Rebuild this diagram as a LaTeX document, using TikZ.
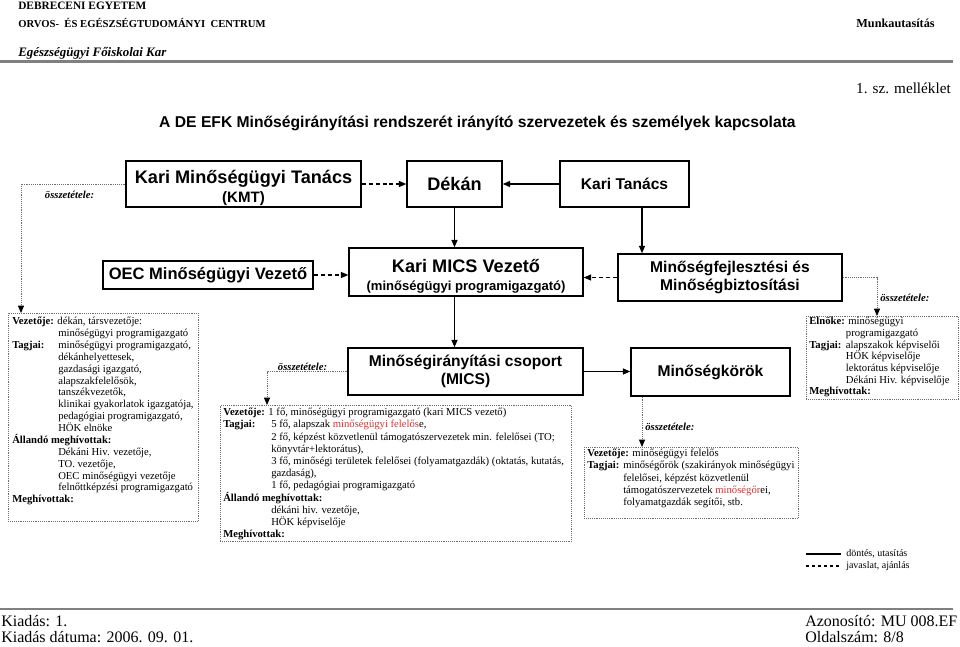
\documentclass[tikz,border=0pt]{standalone}
\usepackage{fontspec}
\setmainfont{Liberation Serif}
\setsansfont{Liberation Sans}
\usetikzlibrary{arrows.meta}
\definecolor{redtxt}{RGB}{214,52,52}
\definecolor{hdgray}{RGB}{128,128,128}
\definecolor{dotgray}{RGB}{110,110,110}
\begin{document}
\begin{tikzpicture}[x=0.75pt,y=-0.75pt,
  bigbox/.style={draw=black,line width=1.1pt,inner sep=0pt,align=center,
    font=\sffamily\bfseries\fontsize{11.7}{14}\selectfont},
  boxtxt/.style={inner sep=0pt,align=center,font=\sffamily\bfseries\fontsize{13.6}{15}\selectfont},
  solidarr/.style={draw=black,line width=0.8pt,-{Triangle[length=5.5pt,width=4.5pt]}},
  dasharr/.style={solidarr,dash pattern=on 3pt off 2.2pt},
  dotline/.style={draw=dotgray,line width=0.6pt,dash pattern=on 0.6pt off 0.8pt,-{Triangle[length=5.5pt,width=4.5pt,color=black]}},
  dotbox/.style={draw=dotgray,line width=0.6pt,dash pattern=on 0.6pt off 0.8pt,inner sep=0pt,anchor=north west},
  bodytxt/.style={inner sep=0pt,align=left,anchor=north west,font=\rmfamily\fontsize{8}{8.9}\selectfont},
  compo/.style={inner sep=0pt,font=\rmfamily\bfseries\itshape\fontsize{8}{9}\selectfont},
  hdtxt/.style={inner sep=0pt,font=\rmfamily\bfseries\fontsize{8.5}{10}\selectfont},
  foottxt/.style={inner sep=0pt,anchor=base west,font=\rmfamily\fontsize{12}{14}\selectfont},
  legtxt/.style={inner sep=0pt,anchor=west,font=\rmfamily\fontsize{7.5}{9}\selectfont},
]
\useasboundingbox (0,0) rectangle (960,646);

% header
\node[hdtxt,anchor=base west] (h1) at (18,9) {DEBRECENI EGYETEM};
\node[hdtxt,anchor=base west,font=\rmfamily\bfseries\fontsize{8}{10}\selectfont] (h2) at (18,27) {ORVOS-\ \ ÉS EGÉSZSÉGTUDOMÁNYI\ \ CENTRUM};
\node[inner sep=0pt,anchor=base west,font=\rmfamily\bfseries\itshape\fontsize{9.7}{12}\selectfont] (h3) at (18,56) {Egészségügyi Főiskolai Kar};
\node[hdtxt,anchor=base east,font=\rmfamily\bfseries\fontsize{9.2}{11}\selectfont] (h4) at (935,27) {Munkautasítás};
\coordinate (hl1) at (0,61.5);
\coordinate (hl2) at (953,61.5);
\draw[hdgray,line width=2.6pt] (hl1) -- (hl2);
\node[inner sep=0pt,anchor=base east,font=\rmfamily\fontsize{11.4}{13}\selectfont] (mell) at (951,93) {1. sz. melléklet};
\node[inner sep=0pt,anchor=base,font=\sffamily\bfseries\fontsize{11.75}{13}\selectfont] (title) at (477.5,127) {A DE EFK Minőségirányítási rendszerét irányító szervezetek és személyek kapcsolata};

% main boxes
\node[bigbox,minimum width=176.25pt,minimum height=34.5pt] (kmt) at (243.5,184) {};
\node[boxtxt] (kmtT) at (243.5,188) {Kari Minőségügyi Tanács\\[-1pt]{\fontsize{11.3}{12}\selectfont (KMT)}};
\node[bigbox,minimum width=71.25pt,minimum height=34.5pt,font=\sffamily\bfseries\fontsize{13.6}{15}\selectfont] (dekan) at (454.5,184) {Dékán};
\node[bigbox,minimum width=96.75pt,minimum height=34.5pt] (kt) at (624.5,184) {Kari Tanács};
\node[bigbox,minimum width=157.5pt,minimum height=21pt,font=\sffamily\bfseries\fontsize{12.4}{14}\selectfont] (oec) at (208,275) {OEC Minőségügyi Vezető};
\node[bigbox,minimum width=175.5pt,minimum height=36pt] (mv) at (466,272) {};
\node[boxtxt] (mvT) at (466,276) {Kari MICS Vezető\\[-1.5pt]{\fontsize{9.8}{11}\selectfont (minőségügyi programigazgató)}};
\node[bigbox,minimum width=168pt,minimum height=35.25pt] (mf) at (730,277.5) {Minőségfejlesztési és\\[-1pt]Minőségbiztosítási};
\node[bigbox,minimum width=176.25pt,minimum height=35.25pt] (mics) at (465.5,371.5) {Minőségirányítási csoport\\[-0.5pt](MICS)};
\node[bigbox,minimum width=119.25pt,minimum height=36pt] (mk) at (710.5,372) {Minőségkörök};

% connectors between main boxes
\coordinate (colB) at (642,0);
\draw[dasharr] (kmt.east) -- (dekan.west);
\draw[solidarr] (kt.west) -- (dekan.east);
\draw[solidarr] (dekan.south) -- (dekan.south |- mv.north);
\draw[solidarr] (kt.south -| colB) -- (colB |- mf.north);
\draw[dasharr] (oec.east) -- (oec.east -| mv.west);
\draw[dasharr] (mf.west) -- (mf.west -| mv.east);
\draw[solidarr] (mv.south -| dekan.south) -- (dekan.south |- mics.north);
\draw[solidarr] (mics.east) -- (mics.east -| mk.west);

% dotted composition boxes
\node[dotbox,minimum width=142.5pt,minimum height=156pt] (lb) at (8,313) {};
\node[dotbox,minimum width=263.25pt,minimum height=102pt] (mb) at (220,405) {};
\node[dotbox,minimum width=114pt,minimum height=62.25pt] (tr) at (806,316) {};
\node[dotbox,minimum width=160.5pt,minimum height=53.25pt] (br) at (584,447) {};

\coordinate (lbtop) at (21,313);
\coordinate (mbtop) at (267,405);
\coordinate (trtop) at (877,316);
\coordinate (brtop) at (642,447);
\draw[dotline] (kmt.west) -| (lbtop);
\draw[dotline] (mics.west) -| (mbtop);
\draw[dotline] (mf.east) -| (trtop);
\draw[dotline] (mk.south -| brtop) -- (brtop);

\node[compo] (c1) at (69.5,195) {összetétele:};
\node[compo,anchor=base] (c2) at (302.5,370) {összetétele:};
\node[compo,anchor=west] (c3) at (880,298) {összetétele:};
\node[compo,anchor=west] (c4) at (645,427) {összetétele:};

% texts of dotted boxes
\node[bodytxt] (lbt) at (12,317) {%
\textbf{Vezetője:} dékán, társvezetője:\\
\hspace*{34.5pt}minőségügyi programigazgató\\
\makebox[34.5pt][l]{\textbf{Tagjai:}}minőségügyi programigazgató,\\
\hspace*{34.5pt}dékánhelyettesek,\\
\hspace*{34.5pt}gazdasági igazgató,\\
\hspace*{34.5pt}alapszakfelelősök,\\
\hspace*{34.5pt}tanszékvezetők,\\
\hspace*{34.5pt}klinikai gyakorlatok igazgatója,\\
\hspace*{34.5pt}pedagógiai programigazgató,\\
\hspace*{34.5pt}HÖK elnöke\\
\textbf{Állandó meghívottak:}\\
\hspace*{34.5pt}Dékáni Hiv. vezetője,\\
\hspace*{34.5pt}TO. vezetője,\\
\hspace*{34.5pt}OEC minőségügyi vezetője\\
\hspace*{34.5pt}felnőttképzési programigazgató\\
\textbf{Meghívottak:}};

\node[bodytxt,font=\rmfamily\fontsize{8}{9.15}\selectfont] (mbt) at (223,408) {%
\textbf{Vezetője:} 1 fő, minőségügyi programigazgató (kari MICS vezető)\\
\makebox[36pt][l]{\textbf{Tagjai:}}5 fő, alapszak \textcolor{redtxt}{minőségügyi felelős}e,\\
\hspace*{36pt}2 fő, képzést közvetlenül támogatószervezetek min. felelősei (TO;\\
\hspace*{36pt}könyvtár+lektorátus),\\
\hspace*{36pt}3 fő, minőségi területek felelősei (folyamatgazdák) (oktatás, kutatás,\\
\hspace*{36pt}gazdaság),\\
\hspace*{36pt}1 fő, pedagógiai programigazgató\\
\textbf{Állandó meghívottak:}\\
\hspace*{36pt}dékáni hiv. vezetője,\\
\hspace*{36pt}HÖK képviselője\\
\textbf{Meghívottak:}};

\node[bodytxt,font=\rmfamily\fontsize{8}{8.75}\selectfont] (trt) at (809,317) {%
\textbf{Elnöke:} minőségügyi\\
\hspace*{27.5pt}programigazgató\\
\makebox[27.5pt][l]{\textbf{Tagjai:}}alapszakok képviselői\\
\hspace*{27.5pt}HÖK képviselője\\
\hspace*{27.5pt}lektorátus képviselője\\
\hspace*{27.5pt}Dékáni Hiv. képviselője\\
\textbf{Meghívottak:}};

\node[bodytxt,font=\rmfamily\fontsize{8}{9.1}\selectfont] (brt) at (587,449) {%
\textbf{Vezetője:} minőségügyi felelős\\
\makebox[27pt][l]{\textbf{Tagjai:}}minőségőrök (szakirányok minőségügyi\\
\hspace*{27pt}felelősei, képzést közvetlenül\\
\hspace*{27pt}támogatószervezetek \textcolor{redtxt}{minőségőr}ei,\\
\hspace*{27pt}folyamatgazdák segítői, stb.};

% legend
\coordinate (l1a) at (806,554);
\coordinate (l1b) at (841,554);
\coordinate (l2a) at (806,566);
\coordinate (l2b) at (841,566);
\draw[line width=0.8pt] (l1a) -- (l1b);
\draw[line width=0.8pt,dash pattern=on 2.5pt off 2pt] (l2a) -- (l2b);
\node[legtxt] (lg1) at (846,554) {döntés, utasítás};
\node[legtxt] (lg2) at (846,566) {javaslat, ajánlás};

% footer
\coordinate (fl1) at (0,609);
\coordinate (fl2) at (953,609);
\draw[hdgray,line width=0.9pt] (fl1) -- (fl2);
\node[foottxt] (f1) at (1,626) {Kiadás: 1.};
\node[foottxt] (f2) at (1,642) {Kiadás dátuma: 2006. 09. 01.};
\node[foottxt] (f3) at (805,626) {Azonosító: MU 008.EF};
\node[foottxt] (f4) at (805,642) {Oldalszám: 8/8};
\end{tikzpicture}
\end{document}
